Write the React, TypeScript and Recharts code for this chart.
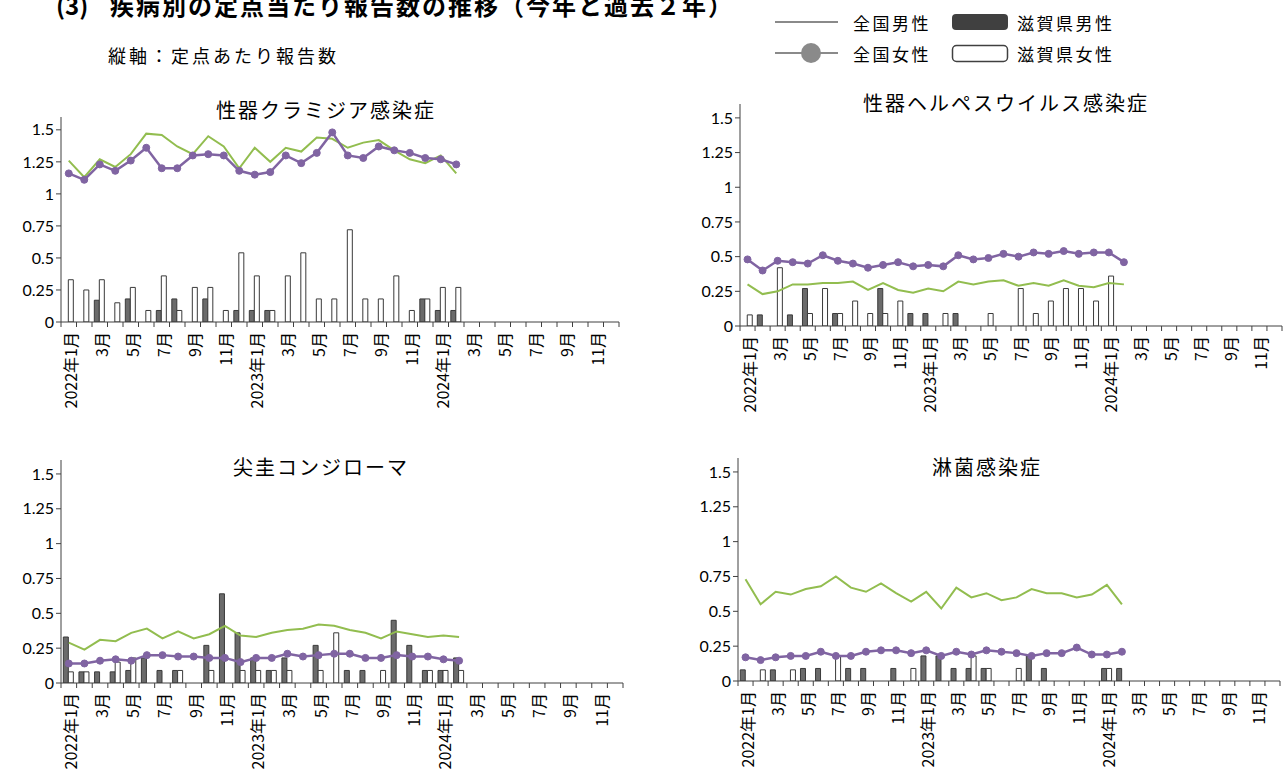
import React from 'react';
import { Bar, ComposedChart, Line, XAxis, YAxis } from 'recharts';

// x-axis categories: Jan 2022 – Dec 2024
const MONTHS = [
	'2022年1月', '2月', '3月', '4月', '5月', '6月', '7月', '8月', '9月', '10月', '11月', '12月',
	'2023年1月', '2月', '3月', '4月', '5月', '6月', '7月', '8月', '9月', '10月', '11月', '12月',
	'2024年1月', '2月', '3月', '4月', '5月', '6月', '7月', '8月', '9月', '10月', '11月', '12月',
];
const Y_TICKS = [0, 0.25, 0.5, 0.75, 1, 1.25, 1.5];

// 性器クラミジア感染症
const CHL_SHIGA_M = [0, 0, 0.17, 0, 0.18, 0, 0.09, 0.18, 0, 0.18, 0, 0.09, 0.09, 0.09, 0, 0, 0, 0, 0, 0, 0, 0, 0, 0.18, 0.09, 0.09];
const CHL_SHIGA_F = [0.33, 0.25, 0.33, 0.15, 0.27, 0.09, 0.36, 0.09, 0.27, 0.27, 0.09, 0.54, 0.36, 0.09, 0.36, 0.54, 0.18, 0.18, 0.72, 0.18, 0.18, 0.36, 0.09, 0.18, 0.27, 0.27];
const CHL_NATION_M = [1.26, 1.13, 1.27, 1.21, 1.31, 1.47, 1.46, 1.37, 1.31, 1.45, 1.37, 1.2, 1.36, 1.25, 1.36, 1.33, 1.44, 1.43, 1.36, 1.4, 1.42, 1.34, 1.27, 1.24, 1.3, 1.16];
const CHL_NATION_F = [1.16, 1.11, 1.23, 1.18, 1.26, 1.36, 1.2, 1.2, 1.3, 1.31, 1.3, 1.18, 1.15, 1.17, 1.3, 1.24, 1.32, 1.48, 1.3, 1.28, 1.37, 1.34, 1.32, 1.28, 1.27, 1.23];

// 性器ヘルペスウイルス感染症
const HSV_SHIGA_M = [0, 0.08, 0, 0.08, 0.27, 0, 0.09, 0, 0, 0.27, 0, 0.09, 0.09, 0, 0.09, 0, 0, 0, 0, 0, 0, 0, 0, 0, 0, 0];
const HSV_SHIGA_F = [0.08, 0, 0.42, 0, 0.09, 0.27, 0.09, 0.18, 0.09, 0.09, 0.18, 0, 0, 0.09, 0, 0, 0.09, 0, 0.27, 0.09, 0.18, 0.27, 0.27, 0.18, 0.36, 0];
const HSV_NATION_M = [0.3, 0.23, 0.25, 0.3, 0.3, 0.31, 0.31, 0.32, 0.26, 0.31, 0.26, 0.24, 0.27, 0.25, 0.32, 0.3, 0.32, 0.33, 0.29, 0.31, 0.29, 0.33, 0.29, 0.28, 0.31, 0.3];
const HSV_NATION_F = [0.48, 0.4, 0.47, 0.46, 0.45, 0.51, 0.47, 0.45, 0.42, 0.44, 0.46, 0.43, 0.44, 0.43, 0.51, 0.48, 0.49, 0.52, 0.5, 0.53, 0.52, 0.54, 0.52, 0.53, 0.53, 0.46];

// 尖圭コンジローマ
const CON_SHIGA_M = [0.33, 0.08, 0.08, 0.08, 0.09, 0.18, 0.09, 0.09, 0, 0.27, 0.64, 0.36, 0.18, 0.09, 0.18, 0, 0.27, 0, 0.09, 0.09, 0, 0.45, 0.27, 0.09, 0.09, 0.18];
const CON_SHIGA_F = [0.08, 0.08, 0, 0.15, 0.18, 0, 0, 0.09, 0, 0.09, 0, 0.09, 0.09, 0.09, 0.09, 0, 0.09, 0.36, 0, 0, 0.09, 0, 0, 0.09, 0.09, 0.09];
const CON_NATION_M = [0.29, 0.24, 0.31, 0.3, 0.36, 0.39, 0.32, 0.37, 0.32, 0.35, 0.41, 0.34, 0.33, 0.36, 0.38, 0.39, 0.42, 0.41, 0.38, 0.36, 0.32, 0.37, 0.35, 0.33, 0.34, 0.33];
const CON_NATION_F = [0.14, 0.14, 0.16, 0.17, 0.16, 0.2, 0.2, 0.19, 0.19, 0.18, 0.18, 0.15, 0.18, 0.18, 0.21, 0.19, 0.2, 0.21, 0.21, 0.18, 0.18, 0.2, 0.19, 0.19, 0.17, 0.16];

// 淋菌感染症
const GON_SHIGA_M = [0.08, 0, 0.08, 0, 0.09, 0.09, 0, 0.09, 0.09, 0, 0.09, 0, 0.18, 0.18, 0.09, 0.09, 0.09, 0, 0, 0.18, 0.09, 0, 0, 0, 0.09, 0.09];
const GON_SHIGA_F = [0, 0.08, 0, 0.08, 0, 0, 0.18, 0, 0, 0, 0, 0.09, 0, 0, 0, 0.18, 0.09, 0, 0.09, 0, 0, 0, 0, 0, 0.09, 0];
const GON_NATION_M = [0.73, 0.55, 0.64, 0.62, 0.66, 0.68, 0.75, 0.67, 0.64, 0.7, 0.63, 0.57, 0.64, 0.52, 0.67, 0.6, 0.63, 0.58, 0.6, 0.66, 0.63, 0.63, 0.6, 0.62, 0.69, 0.55];
const GON_NATION_F = [0.17, 0.15, 0.17, 0.18, 0.18, 0.21, 0.18, 0.18, 0.21, 0.22, 0.22, 0.2, 0.22, 0.18, 0.21, 0.19, 0.22, 0.21, 0.2, 0.18, 0.2, 0.2, 0.24, 0.19, 0.19, 0.21];

const GREEN = '#92BD4F';
const PURPLE = '#8064A2';
const AXIS = '#404040';
const FONT = '"Noto Sans CJK JP", "Noto Sans", sans-serif';

function buildRows(sm: number[], sf: number[], nm: number[], nf: number[]) {
	return MONTHS.map((m, i) => ({
		m,
		sm: sm[i] ?? null,
		sf: sf[i] ?? null,
		nm: nm[i] ?? null,
		nf: nf[i] ?? null,
	}));
}

function MonthTick(props: any) {
	const { x, payload, bw, axisY } = props;
	const i = payload?.index ?? props.index;
	return (
		<g>
			<line x1={x - bw / 2} x2={x - bw / 2} y1={axisY} y2={axisY + 5} stroke={AXIS} />
			{i === MONTHS.length - 1 && (
				<line x1={x + bw / 2} x2={x + bw / 2} y1={axisY} y2={axisY + 5} stroke={AXIS} />
			)}
			{i % 2 === 0 && (
				<text
					transform={`translate(${x + 1},${axisY + 10}) rotate(-90)`}
					textAnchor="end"
					dominantBaseline="central"
					fontSize={16}
					fill="#000"
				>
					{payload.value}
				</text>
			)}
		</g>
	);
}

interface PanelProps {
	title: string;
	titleX: number;
	titleY: number;
	left: number;
	top: number;
	plotW: number;
	plotH: number;
	rows: ReturnType<typeof buildRows>;
}

function Panel({ title, titleX, titleY, left, top, plotW, plotH, rows }: PanelProps) {
	const YW = 60;
	const T = 6;
	const R = 6;
	const XH = 110;
	const bw = plotW / MONTHS.length;
	const axisY = T + plotH;
	return (
		<>
			<div
				style={{
					position: 'absolute',
					left: titleX - 200,
					width: 400,
					top: titleY - 14,
					lineHeight: '28px',
					textAlign: 'center',
					fontSize: 20,
					letterSpacing: 2,
					color: '#000',
				}}
			>
				{title}
			</div>
			<div style={{ position: 'absolute', left: left - YW, top: top - T }}>
				<ComposedChart
					width={YW + plotW + R}
					height={T + plotH + XH}
					data={rows}
					margin={{ top: T, right: R, left: 0, bottom: 0 }}
					barCategoryGap="15%"
					barGap={0}
				>
					<XAxis
						dataKey="m"
						interval={0}
						height={XH}
						tickLine={false}
						axisLine={{ stroke: AXIS }}
						tick={(p: any) => <MonthTick {...p} bw={bw} axisY={axisY} />}
					/>
					<YAxis
						domain={[0, 1.6]}
						ticks={Y_TICKS}
						width={YW}
						tickSize={5}
						allowDataOverflow
						axisLine={{ stroke: AXIS }}
						tickLine={{ stroke: AXIS }}
						tick={{ fill: '#000', fontSize: 16, fontFamily: 'Lato' }}
					/>
					<Bar dataKey="sm" fill="#6B6B6B" stroke="#3A3A3A" strokeWidth={1} isAnimationActive={false} />
					<Bar dataKey="sf" fill="#FFFFFF" stroke="#3A3A3A" strokeWidth={1} isAnimationActive={false} />
					<Line dataKey="nm" stroke={GREEN} strokeWidth={2} dot={false} isAnimationActive={false} />
					<Line
						dataKey="nf"
						stroke={PURPLE}
						strokeWidth={2.5}
						dot={{ r: 3.5, fill: PURPLE, stroke: PURPLE, strokeWidth: 1 }}
						isAnimationActive={false}
					/>
				</ComposedChart>
			</div>
		</>
	);
}

function Legend() {
	const text = { fontSize: 17, letterSpacing: 2.5, fill: '#000' };
	return (
		<svg style={{ position: 'absolute', left: 760, top: 0 }} width={400} height={75}>
			<line x1={15} x2={78} y1={22} y2={22} stroke="#8A8A8A" strokeWidth={2} />
			<text x={93} y={22} dominantBaseline="central" {...text}>全国男性</text>
			<rect x={192} y={14} width={56} height={16} rx={4} fill="#404040" />
			<text x={257} y={22} dominantBaseline="central" {...text}>滋賀県男性</text>
			<line x1={15} x2={78} y1={53} y2={53} stroke="#8A8A8A" strokeWidth={2} />
			<circle cx={51} cy={53} r={10} fill="#8A8A8A" />
			<text x={93} y={53} dominantBaseline="central" {...text}>全国女性</text>
			<rect x={192.5} y={45.5} width={55} height={16} rx={4} fill="#FFFFFF" stroke="#404040" strokeWidth={1.5} />
			<text x={257} y={53} dominantBaseline="central" {...text}>滋賀県女性</text>
		</svg>
	);
}

export default function App() {
	return (
		<div
			style={{
				position: 'absolute',
				left: 0,
				top: 0,
				width: 1287,
				height: 780,
				overflow: 'hidden',
				background: '#fff',
				fontFamily: FONT,
				color: '#000',
			}}
		>
			<div style={{ position: 'absolute', left: 56, top: -7, fontSize: 24, lineHeight: '24px', fontWeight: 700 }}>
				(3)
			</div>
			<div
				style={{
					position: 'absolute',
					left: 110,
					top: -7,
					fontSize: 24,
					lineHeight: '24px',
					fontWeight: 700,
					letterSpacing: 2,
					whiteSpace: 'nowrap',
				}}
			>
				疾病別の定点当たり報告数の推移（今年と過去２年）
			</div>
			<div
				style={{
					position: 'absolute',
					left: 108,
					top: 45,
					fontSize: 18,
					lineHeight: '20px',
					letterSpacing: 3,
					whiteSpace: 'nowrap',
				}}
			>
				縦軸：定点あたり報告数
			</div>
			<Legend />
			<Panel
				title="性器クラミジア感染症"
				titleX={326}
				titleY={110}
				left={61}
				top={117}
				plotW={558}
				plotH={205}
				rows={buildRows(CHL_SHIGA_M, CHL_SHIGA_F, CHL_NATION_M, CHL_NATION_F)}
			/>
			<Panel
				title="性器ヘルペスウイルス感染症"
				titleX={1006}
				titleY={103}
				left={740}
				top={104}
				plotW={542}
				plotH={222}
				rows={buildRows(HSV_SHIGA_M, HSV_SHIGA_F, HSV_NATION_M, HSV_NATION_F)}
			/>
			<Panel
				title="尖圭コンジローマ"
				titleX={321}
				titleY={467}
				left={61}
				top={460}
				plotW={562}
				plotH={223}
				rows={buildRows(CON_SHIGA_M, CON_SHIGA_F, CON_NATION_M, CON_NATION_F)}
			/>
			<Panel
				title="淋菌感染症"
				titleX={987}
				titleY={467}
				left={738}
				top={458}
				plotW={542}
				plotH={223}
				rows={buildRows(GON_SHIGA_M, GON_SHIGA_F, GON_NATION_M, GON_NATION_F)}
			/>
		</div>
	);
}
